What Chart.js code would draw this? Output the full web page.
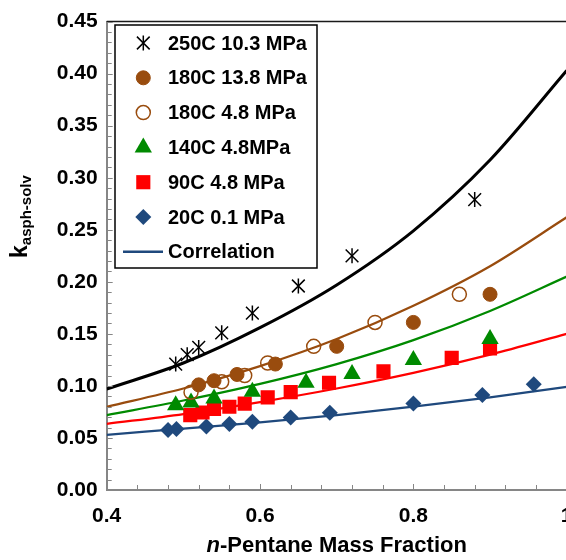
<!DOCTYPE html>
<html>
<head>
<meta charset="utf-8">
<script src="https://cdn.jsdelivr.net/npm/chart.js@4.4.0/dist/chart.umd.min.js"></script>
<style>
  html, body { margin: 0; padding: 0; background: #fff; overflow: hidden; width: 566px; height: 560px; }
  #wrap { width: 600px; height: 560px; }
  canvas { display: block; }
</style>
</head>
<body>
<div id="wrap"><canvas id="chart" width="600" height="560" style="width:600px;height:560px"></canvas></div>
<script>
// ---- measured points: n-pentane mass fraction vs k(asph-solv) ----
const x250 = [0.490, 0.505, 0.520, 0.550, 0.590, 0.650, 0.720, 0.880];
const y250 = [0.121, 0.130, 0.137, 0.151, 0.170, 0.196, 0.225, 0.279];

const x180hp = [0.520, 0.540, 0.570, 0.620, 0.700, 0.800, 0.900];
const y180hp = [0.101, 0.105, 0.111, 0.121, 0.138, 0.161, 0.188];

const x180lp = [0.510, 0.550, 0.580, 0.610, 0.670, 0.750, 0.860];
const y180lp = [0.094, 0.104, 0.110, 0.122, 0.138, 0.161, 0.188];

const x140 = [0.490, 0.510, 0.540, 0.590, 0.660, 0.720, 0.800, 0.900];
const y140 = [0.0815, 0.084, 0.088, 0.0945, 0.103, 0.1115, 0.125, 0.145];

const x90 = [0.509, 0.525, 0.540, 0.560, 0.580, 0.610, 0.640, 0.690, 0.761, 0.850, 0.900];
const y90 = [0.072, 0.0745, 0.078, 0.080, 0.083, 0.089, 0.094, 0.103, 0.114, 0.127, 0.136];

const x20 = [0.480, 0.491, 0.530, 0.560, 0.590, 0.640, 0.691, 0.800, 0.890, 0.957];
const y20 = [0.0576, 0.0585, 0.061, 0.0635, 0.0655, 0.0697, 0.0742, 0.0831, 0.0913, 0.1015];

// ---- correlation curves ----
const xCorr = [0.4, 0.5, 0.6, 0.7, 0.8, 0.9, 1.0];
const corr250 = [0.097, 0.122, 0.156, 0.197, 0.249, 0.317, 0.403];
const corr180 = [0.080, 0.0975, 0.119, 0.145, 0.177, 0.215, 0.262];
const corr140 = [0.072, 0.086, 0.102, 0.121, 0.144, 0.172, 0.205];
const corr90  = [0.0635, 0.073, 0.0845, 0.0975, 0.1125, 0.130, 0.150];
const corr20  = [0.053, 0.059, 0.065, 0.072, 0.080, 0.089, 0.099];

// ---- series labels and axis ticks ----
const seriesLabels = ['250C 10.3 MPa', '180C 13.8 MPa', '180C 4.8 MPa', '140C 4.8MPa', '90C 4.8 MPa', '20C 0.1 MPa'];
const corrLabel = 'Correlation';
const xTicks = [0.4, 0.6, 0.8, 1.0];
const yTicks = [0, 0.05, 0.10, 0.15, 0.20, 0.25, 0.30, 0.35, 0.40, 0.45];

const FONT = "'Liberation Sans', Arial, Helvetica, sans-serif";
const BROWN = '#994C0E', GREEN = '#008A00', RED = '#FF0000', NAVY = '#1F497D';

function pts(xs, ys) { return xs.map((v, i) => ({ x: v, y: ys[i] })); }

// The 250C asterisk is an X (crossRot) plus a vertical bar (rotated 'line')
const starParts = [
  { pointStyle: 'crossRot', pointRadius: 9, rotation: 0 },
  { pointStyle: 'line', pointRadius: 7.5, rotation: 90 }
];

const markerSets = [
  { label: seriesLabels[0], data: pts(x250, y250), pointStyle: 'crossRot', pointRadius: 9, backgroundColor: '#000', borderColor: '#000', pointBorderWidth: 1.5, star: true },
  { label: seriesLabels[1], data: pts(x180hp, y180hp), pointStyle: 'circle', pointRadius: 7, backgroundColor: BROWN, borderColor: BROWN, pointBorderWidth: 1 },
  { label: seriesLabels[2], data: pts(x180lp, y180lp), pointStyle: 'circle', pointRadius: 7, backgroundColor: 'rgba(255,255,255,0)', borderColor: BROWN, pointBorderWidth: 1.5 },
  { label: seriesLabels[3], data: pts(x140, y140), pointStyle: 'triangle', pointRadius: 10, backgroundColor: GREEN, borderColor: GREEN, pointBorderWidth: 0 },
  { label: seriesLabels[4], data: pts(x90, y90), pointStyle: 'rect', pointRadius: 10, backgroundColor: RED, borderColor: RED, pointBorderWidth: 0 },
  { label: seriesLabels[5], data: pts(x20, y20), pointStyle: 'rectRot', pointRadius: 8, backgroundColor: NAVY, borderColor: NAVY, pointBorderWidth: 0 }
].map(d => Object.assign({
  showLine: false, order: 1,
  pointBackgroundColor: d.backgroundColor, pointBorderColor: d.borderColor,
  pointHoverRadius: d.pointRadius
}, d));

// vertical bar of the 250C asterisk, same points
const starBar = {
  label: seriesLabels[0], data: pts(x250, y250), showLine: false, order: 1,
  pointStyle: 'line', pointRotation: 90, pointRadius: 7.5, pointHoverRadius: 7.5,
  pointBorderColor: '#000', pointBackgroundColor: '#000', pointBorderWidth: 1.5
};

const curveSets = [
  [corr250, '#000000', 3],
  [corr180, BROWN, 2.25],
  [corr140, GREEN, 2.25],
  [corr90, RED, 2.25],
  [corr20, NAVY, 2.25]
].map(([ys, col, w]) => ({
  label: corrLabel, data: pts(xCorr, ys), showLine: true, borderColor: col,
  borderWidth: w, pointRadius: 0, pointHoverRadius: 0, fill: false,
  cubicInterpolationMode: 'monotone', order: 10
}));

// inward ticks, top frame line, y title with subscript, x title with italic n, legend box
const decor = {
  id: 'decor',
  afterDraw(chart) {
    const { ctx, chartArea: a, scales: { x, y } } = chart;
    const H = Chart.helpers;
    ctx.save();
    // top frame
    ctx.strokeStyle = '#1a1a1a'; ctx.lineWidth = 1.5;
    ctx.beginPath(); ctx.moveTo(a.left, a.top); ctx.lineTo(a.right + 2, a.top); ctx.stroke();
    // inward tick marks
    ctx.strokeStyle = '#868686'; ctx.lineWidth = 1;
    ctx.beginPath();
    for (let i = 0; i <= 45; i++) {
      const py = Math.round(y.getPixelForValue(i / 100)) + 0.5;
      const len = (i % 5 === 0) ? 6 : 5;
      ctx.moveTo(a.left, py); ctx.lineTo(a.left + len, py);
    }
    for (let i = 0; i <= 15; i++) {
      const px = Math.round(x.getPixelForValue(0.4 + i * 0.04)) + 0.5;
      const len = (i % 5 === 0) ? 6 : 5;
      ctx.moveTo(px, a.bottom); ctx.lineTo(px, a.bottom - len);
    }
    ctx.stroke();

    // y-axis title: k with subscript
    ctx.fillStyle = '#000';
    ctx.save();
    ctx.translate(27, 258);
    ctx.rotate(-Math.PI / 2);
    ctx.textBaseline = 'alphabetic'; ctx.textAlign = 'left';
    ctx.font = 'bold 23px ' + FONT;
    ctx.fillText('k', 0, 0);
    const kw = ctx.measureText('k').width;
    ctx.font = 'bold 15px ' + FONT;
    ctx.fillText('asph-solv', kw, 4);
    ctx.restore();

    // x-axis title: italic n
    ctx.font = 'italic bold 22px ' + FONT;
    const p1 = 'n';
    const w1 = ctx.measureText(p1).width;
    ctx.font = 'bold 22px ' + FONT;
    const p2 = '-Pentane Mass Fraction';
    const w2 = ctx.measureText(p2).width;
    const cx = (a.left + a.right) / 2;
    const sx = cx - (w1 + w2) / 2;
    ctx.textBaseline = 'middle'; ctx.textAlign = 'left';
    ctx.font = 'italic bold 22px ' + FONT;
    ctx.fillText(p1, sx, 546);
    ctx.font = 'bold 22px ' + FONT;
    ctx.fillText(p2, sx + w1, 546);

    // legend box
    const bx = 115, by = 25, bw = 202, bh = 243;
    ctx.fillStyle = '#fff';
    ctx.fillRect(bx, by, bw, bh);
    ctx.strokeStyle = '#000'; ctx.lineWidth = 1.5;
    ctx.strokeRect(bx, by, bw, bh);
    const rowY0 = 43, rowStep = 34.8, mx = 143.3, tx = 168;
    ctx.font = 'bold 20px ' + FONT;
    ctx.textBaseline = 'middle'; ctx.textAlign = 'left';
    markerSets.forEach((d, i) => {
      const yy = rowY0 + i * rowStep;
      ctx.fillStyle = d.backgroundColor; ctx.strokeStyle = d.borderColor;
      ctx.lineWidth = d.pointBorderWidth;
      const parts = d.star ? starParts : [{ pointStyle: d.pointStyle, pointRadius: d.pointRadius, rotation: 0 }];
      parts.forEach(p => H.drawPoint(ctx, { pointStyle: p.pointStyle, radius: p.pointRadius, rotation: p.rotation, borderWidth: d.pointBorderWidth }, mx, yy));
      ctx.fillStyle = '#000';
      ctx.fillText(d.label, tx, yy + 1);
    });
    const yc = rowY0 + 6 * rowStep;
    ctx.strokeStyle = NAVY; ctx.lineWidth = 2.5;
    ctx.beginPath(); ctx.moveTo(123, yc); ctx.lineTo(163, yc); ctx.stroke();
    ctx.fillStyle = '#000';
    ctx.fillText(corrLabel, tx, yc + 1);
    ctx.restore();
  }
};

new Chart(document.getElementById('chart'), {
  type: 'scatter',
  data: { datasets: [...markerSets, starBar, ...curveSets] },
  options: {
    responsive: false,
    animation: false,
    events: [],
    layout: { padding: { top: 17, right: 33.3, left: 0, bottom: 0 } },
    plugins: { legend: { display: false }, tooltip: { enabled: false } },
    scales: {
      x: {
        type: 'linear', min: 0.4, max: 1.0,
        afterBuildTicks(s) { s.ticks = xTicks.map(v => ({ value: v })); },
        afterFit(s) { s.height = 70; },
        ticks: {
          color: '#000', padding: 14,
          font: { family: FONT, size: 21, weight: 'bold' },
          callback: v => Math.abs(v - 1) < 1e-9 ? '1' : v.toFixed(1)
        },
        grid: { display: false, drawTicks: false },
        border: { display: true, color: '#868686', width: 2 }
      },
      y: {
        type: 'linear', min: 0, max: 0.45,
        afterBuildTicks(s) { s.ticks = yTicks.map(v => ({ value: v })); },
        afterFit(s) { s.width = 106.7; },
        ticks: {
          color: '#000', padding: 9,
          font: { family: FONT, size: 21, weight: 'bold' },
          callback: v => v.toFixed(2)
        },
        grid: { display: false, drawTicks: false },
        border: { display: true, color: '#868686', width: 2 }
      }
    }
  },
  plugins: [decor]
});
</script>
</body>
</html>
